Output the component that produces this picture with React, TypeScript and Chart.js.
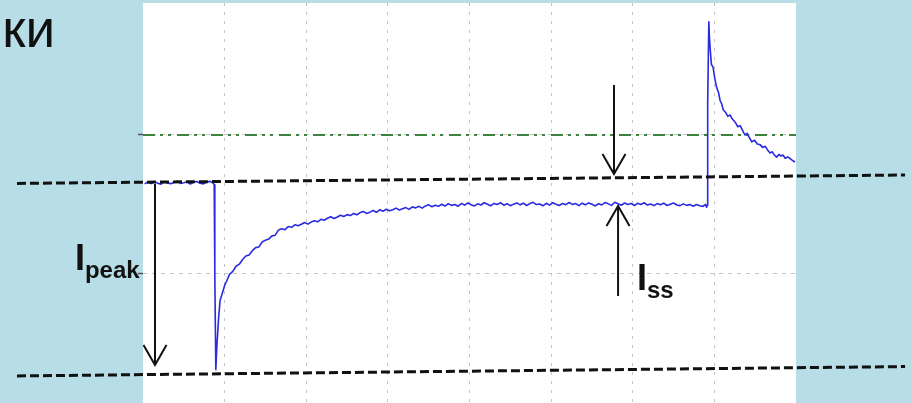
import React, { useEffect, useRef } from 'react';
import { Chart, registerables } from 'chart.js';

Chart.register(...registerables);

// ---- axis ranges & grid ----
const xMin = 0;
const xMax = 400;
const yMin = -94.2;
const yMax = 195.65;
const xGridTicks = [50, 100, 150, 200, 250, 300, 350];
const yGridTicks = [0, 100];

// ---- current trace (segments) ----
const baselineTime = [1, 3, 5, 7, 9, 11, 13, 15, 17, 19, 21, 23, 25, 27, 29, 31, 33, 35, 37, 39, 41, 43];
const baselineCurrent = [64.6, 65.9, 64.8, 66.2, 65.1, 64.4, 66.0, 65.3, 64.7, 65.8, 66.5, 64.9, 65.4, 66.1, 64.5, 65.7, 66.3, 65.0, 64.6, 65.9, 66.4, 65.2];

const dropTime = [43.6, 44.0, 44.6, 45.3, 46.3, 47.2, 48.5, 50, 51.2, 53];
const dropCurrent = [64.0, -2, -70, -52, -33, -20, -15, -9, -6, -1];

const recoveryTime = [
  55, 57, 59, 61, 63, 65, 67, 69, 71, 73,
  75, 77, 79, 81, 83, 85, 87, 89, 91, 93,
  95, 97, 99, 101, 103, 105, 107, 109, 111, 113,
  115, 117, 119, 121, 123, 125, 127, 129, 131, 133,
  135, 137, 139, 141, 143, 145, 147, 149, 151, 153,
  155, 157, 159, 161, 163, 165, 167, 169, 171, 173,
  175, 177, 179, 181, 183, 185, 187, 189, 191, 193,
  195, 197, 199, 201, 203, 205, 207, 209, 211, 213,
  215, 217, 219, 221, 223, 225, 227, 229, 231, 233,
  235, 237, 239, 241, 243, 245, 247, 249, 251, 253,
  255, 257, 259, 261, 263, 265, 267, 269, 271, 273,
  275, 277, 279, 281, 283, 285, 287, 289, 291, 293,
  295, 297, 299, 301, 303, 305, 307, 309, 311, 313,
  315, 317, 319, 321, 323, 325, 327, 329, 331, 333,
  335, 337, 339, 341, 343,
];
const recoveryCurrent = [
  1.2, 4.9, 6.4, 9.8, 12.3, 13.1, 16.2, 18.4, 18.9, 22.5,
  23.8, 24.6, 26.9, 27.4, 31.2, 32.0, 31.4, 33.7, 33.1, 34.9,
  34.2, 35.3, 36.6, 35.4, 36.9, 37.8, 37.1, 38.9, 38.2, 39.7,
  40.8, 39.5, 40.6, 41.9, 40.9, 42.3, 41.6, 43.1, 42.2, 43.8,
  44.6, 43.2, 44.1, 45.3, 44.0, 45.8, 44.7, 46.2, 45.1, 45.9,
  47.0, 45.7, 46.6, 47.4, 46.1, 47.9, 47.2, 48.3, 47.0, 48.6,
  49.4, 48.0, 49.1, 48.3, 49.8, 48.5, 50.2, 49.0, 49.6, 48.4,
  50.3, 49.2, 50.7, 49.5, 48.6, 50.1, 49.3, 50.9, 49.8, 48.7,
  50.4, 49.6, 51.0, 49.1, 50.2, 48.8, 49.9, 50.8, 49.4, 50.6,
  48.9, 50.3, 51.2, 49.6, 50.0, 48.7, 50.5, 49.2, 50.9, 49.8,
  48.9, 50.4, 49.5, 51.1, 49.7, 50.3, 48.8, 50.6, 49.4, 50.8,
  49.9, 48.6, 50.2, 49.3, 51.0, 50.1, 49.0, 51.3, 50.2, 49.1,
  50.7, 49.6, 50.4, 48.9, 50.5, 49.7, 50.9, 49.2, 50.0, 48.8,
  50.3, 49.5, 50.6, 48.9, 49.8, 50.7, 49.3, 48.8, 50.1, 49.0,
  49.7, 48.4, 49.6, 48.7, 48.3,
];

const tailTime = [
  344.6, 345.2, 345.6, 345.9, 346.6, 347.0, 347.6, 348.2, 348.8, 349.3,
  350.4, 351.5, 352.5, 353.5, 354.5, 355.5, 356.8, 358.2, 359.6, 360.5,
  361.4, 362.9, 364.4, 365.8, 367.2, 368.7, 370.1, 371.5, 372.9, 374.6,
  376.3, 378, 379.6, 381.2, 382.7, 384.1, 385.5, 386.9, 388.2, 389.5,
  390.8, 392, 393.4, 394.9, 396.3, 397.8, 399.4,
];
const tailCurrent = [
  49.8, 47.6, 48.9, 123, 182, 170, 160, 151, 150, 148.5,
  140, 134, 131, 125, 122.5, 118, 116.5, 113.5, 114.5, 112.5,
  111, 109, 106, 106.8, 103.5, 100, 101.2, 98, 95, 96.2,
  93.5, 93, 91, 91.8, 89, 87, 87.8, 85.2, 84, 85.9,
  84.8, 85.5, 83.2, 84.1, 83, 81.6, 80.4,
];

// ---- reference levels ----
const greenLevelTime = [0, 400];
const greenLevelCurrent = [100, 100];
const guideTime = [-77.2, 466.8];
const upperGuideCurrent = [64.9, 71.0];
const lowerGuideCurrent = [-74.6, -67.8];

// ---- annotations ----
const arrowTime = [7.35, 288.5, 291.0];
const arrowFrom = [64.5, 136.2, -16.7];
const arrowTo = [-66.7, 71.7, 48.5];
const labelMain = ['I', 'I'];
const labelSub = ['peak', 'ss'];
const labelTime = [-41.7, 302.6];
const labelCurrent = [2.2, -12.3];
const headingFragment = 'ки';

const PAGE_BG = '#b7dde6';
const FONT = '"Liberation Sans", Arial, sans-serif';

const toPoints = (t: number[], v: number[]) => t.map((x, i) => ({ x, y: v[i] }));

const bgPlugin = {
  id: 'bgPlugin',
  beforeDraw(chart: any) {
    const { ctx, chartArea, width, height } = chart;
    ctx.save();
    ctx.fillStyle = PAGE_BG;
    ctx.fillRect(0, 0, width, height);
    ctx.fillStyle = '#ffffff';
    ctx.fillRect(chartArea.left, chartArea.top, chartArea.right - chartArea.left, chartArea.bottom - chartArea.top);
    ctx.restore();
  },
};

const annotPlugin = {
  id: 'annotPlugin',
  afterDatasetsDraw(chart: any) {
    const { ctx } = chart;
    const xs = chart.scales.x;
    const ys = chart.scales.y;
    ctx.save();
    ctx.strokeStyle = '#111111';
    ctx.lineWidth = 2;
    ctx.setLineDash([]);
    arrowTime.forEach((t, k) => {
      const px = xs.getPixelForValue(t);
      const y0 = ys.getPixelForValue(arrowFrom[k]);
      const y1 = ys.getPixelForValue(arrowTo[k]);
      const dir = Math.sign(y1 - y0);
      ctx.beginPath();
      ctx.moveTo(px, y0);
      ctx.lineTo(px, y1);
      ctx.stroke();
      ctx.beginPath();
      ctx.moveTo(px - 11.5, y1 - dir * 20);
      ctx.lineTo(px, y1);
      ctx.lineTo(px + 11.5, y1 - dir * 20);
      ctx.stroke();
    });
    ctx.fillStyle = '#111111';
    ctx.textBaseline = 'alphabetic';
    ctx.textAlign = 'left';
    labelMain.forEach((m, k) => {
      const px = xs.getPixelForValue(labelTime[k]);
      const py = ys.getPixelForValue(labelCurrent[k]);
      ctx.font = `bold 36px ${FONT}`;
      ctx.fillText(m, px, py);
      const w = ctx.measureText(m).width;
      ctx.font = `bold 24px ${FONT}`;
      ctx.fillText(labelSub[k], px + w, py + 8);
    });
    ctx.font = `53px ${FONT}`;
    ctx.textAlign = 'right';
    ctx.fillText(headingFragment, 55, 47);
    ctx.restore();
  },
};

export default function App() {
  const ref = useRef<HTMLCanvasElement>(null);
  useEffect(() => {
    document.body.style.margin = '0';
    const canvas = ref.current;
    if (!canvas) return;
    const trace = [
      ...toPoints(baselineTime, baselineCurrent),
      ...toPoints(dropTime, dropCurrent),
      ...toPoints(recoveryTime, recoveryCurrent),
      ...toPoints(tailTime, tailCurrent),
    ];
    const chart = new Chart(canvas, {
      type: 'line',
      data: {
        datasets: [
          {
            label: 'upper',
            data: toPoints(guideTime, upperGuideCurrent),
            borderColor: '#111111',
            borderWidth: 3,
            borderDash: [9, 4],
            pointRadius: 0,
            clip: false,
          } as any,
          {
            label: 'lower',
            data: toPoints(guideTime, lowerGuideCurrent),
            borderColor: '#111111',
            borderWidth: 3,
            borderDash: [9, 4],
            pointRadius: 0,
            clip: false,
          } as any,
          {
            label: 'current',
            data: trace,
            borderColor: '#2a2ae0',
            borderWidth: 1.6,
            pointRadius: 0,
            tension: 0,
            borderJoinStyle: 'round',
          },
          {
            label: 'level',
            data: toPoints(greenLevelTime, greenLevelCurrent),
            borderColor: '#3d833d',
            borderWidth: 1.8,
            borderDash: [12, 5, 3, 5, 3, 6],
            pointRadius: 0,
          },
        ],
      },
      options: {
        responsive: false,
        animation: false,
        events: [],
        layout: { padding: { left: 138, right: 116, top: 3, bottom: 0 } },
        plugins: { legend: { display: false }, tooltip: { enabled: false } },
        scales: {
          x: {
            type: 'linear',
            min: xMin,
            max: xMax,
            afterBuildTicks: (s: any) => {
              s.ticks = xGridTicks.map((v) => ({ value: v }));
            },
            ticks: { display: false },
            grid: { color: '#c4c4c4', lineWidth: 1, drawTicks: false },
            border: { display: false, dash: [3, 6] },
          },
          y: {
            type: 'linear',
            min: yMin,
            max: yMax,
            afterBuildTicks: (s: any) => {
              s.ticks = yGridTicks.map((v) => ({ value: v }));
            },
            ticks: { display: false },
            grid: { color: '#c4c4c4', lineWidth: 1, drawTicks: true, tickLength: 5, tickColor: '#555555', tickWidth: 1.5 },
            border: { display: false, dash: [4, 5] },
          },
        },
      },
      plugins: [bgPlugin, annotPlugin],
    });
    return () => chart.destroy();
  }, []);
  return (
    <div style={{ width: 912, height: 403 }}>
      <canvas ref={ref} width={912} height={403} style={{ display: 'block' }} />
    </div>
  );
}
